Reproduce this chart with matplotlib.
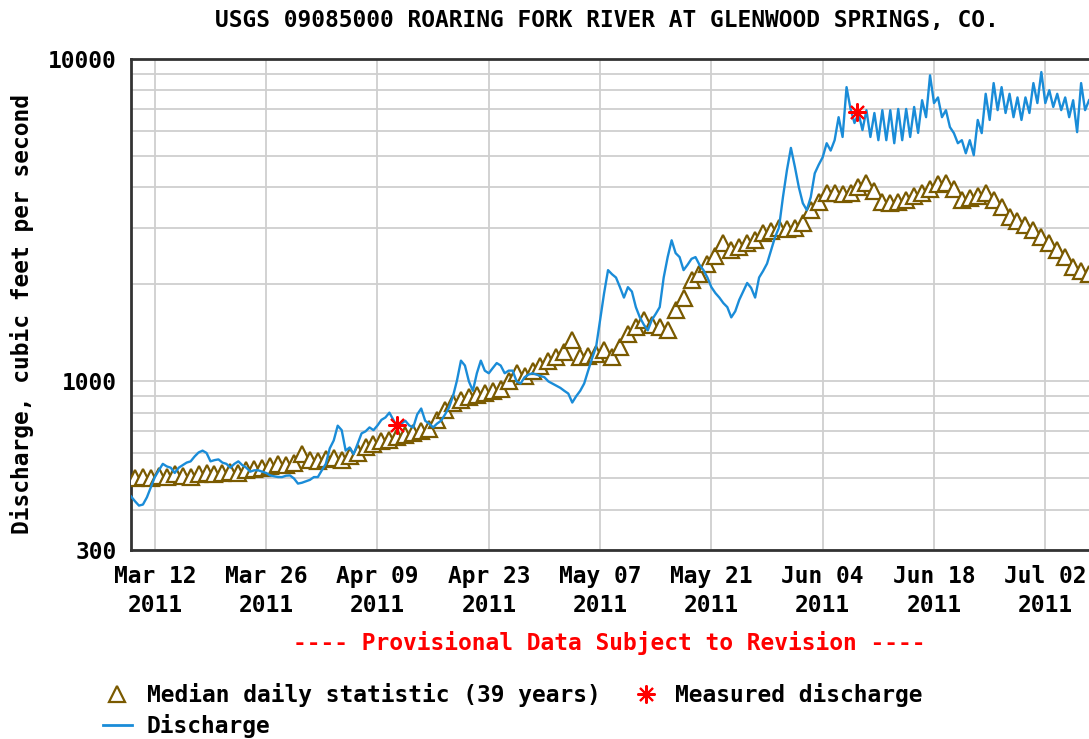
import matplotlib
matplotlib.use("Agg")
import matplotlib.pyplot as plt
import matplotlib.ticker as mticker
from matplotlib.lines import Line2D
import numpy as np
import pandas as pd

plt.rcParams['font.family'] = ['DejaVu Sans Mono']
plt.rcParams['font.weight'] = 'bold'

title = "USGS 09085000 ROARING FORK RIVER AT GLENWOOD SPRINGS, CO."

# median daily statistic, Mar 9 .. Jul 7 2011 (one per day)
median_start = "2011-03-09 12:00"
median_vals = [
    500, 505, 500, 510, 505, 515, 510, 505, 515, 520, 515, 520, 525, 520,   # Mar 9-22
    530, 535, 540, 545, 555, 550, 560, 597, 570,                             # Mar 23-31
    565, 575, 580, 570, 585, 600, 625, 640, 655, 660, 670, 680, 690, 700, 710,  # Apr 1-15
    760, 815, 860, 875, 895, 905, 920, 935, 945, 1000, 1060, 1040, 1080, 1120, 1160,  # Apr 16-30
    1190, 1230, 1340, 1190, 1200, 1220, 1250, 1190, 1280, 1400, 1470, 1550, 1500, 1480, 1440,  # May 1-15
    1660, 1820, 2060, 2160, 2320, 2450, 2680, 2550, 2610, 2680, 2740, 2880, 2930, 3000, 2980, 3000,  # May 16-31
    3100, 3400, 3600, 3840, 3850, 3800, 3850, 4000, 4120, 3900, 3600, 3570, 3600, 3650, 3750,  # Jun 1-15
    3850, 3950, 4100, 4120, 3950, 3650, 3700, 3750, 3840, 3650, 3470, 3230, 3150, 3050, 2950,  # Jun 16-30
    2800, 2680, 2550, 2430, 2260, 2200, 2160,                                # Jul 1-7
]

# discharge, two readings per day (00:00, 12:00), Mar 9 .. Jul 7 2011
q_start = "2011-03-09 00:00"
q_vals = [
    440, 425, 412, 415, 437, 470, 505, 530, 555, 545, 540, 520, 540, 550,          # Mar 9-15
    560, 565, 585, 602, 610, 600, 565, 570, 573, 560, 555, 540, 555, 565,          # Mar 16-22
    550, 540, 525, 530, 530, 525, 520, 511, 508, 505, 505, 510, 511, 500,          # Mar 23-29
    482, 485, 490, 495, 505, 505, 530, 555, 620, 656, 729, 706, 610, 624,          # Mar 30-Apr 5
    595, 640, 690, 700, 720, 706, 730, 760, 773, 800, 760, 720, 740, 755,          # Apr 6-12
    730, 720, 790, 824, 755, 740, 720, 740, 755, 790, 830, 900, 1007, 1160,        # Apr 13-19
    1120, 1000, 935, 1060, 1160, 1080, 1060, 1100, 1140, 1120, 1060, 1080, 1080, 1000,  # Apr 20-26
    985, 1030, 1050, 1060, 1050, 1040, 1030, 1000, 985, 970, 955, 935, 917, 860,   # Apr 27-May 3
    900, 935, 985, 1080, 1180, 1280, 1550, 1875, 2214, 2150, 2100, 1960, 1820, 1960,  # May 4-10
    1900, 1700, 1580, 1500, 1440, 1550, 1620, 1700, 2100, 2430, 2740, 2500, 2430, 2214,  # May 11-17
    2300, 2400, 2430, 2300, 2214, 2100, 1960, 1880, 1820, 1750, 1700, 1580, 1650, 1790,  # May 18-24
    1900, 2020, 1950, 1820, 2100, 2200, 2320, 2550, 2800, 3000, 3730, 4520, 5300, 4630,  # May 25-31
    4000, 3570, 3400, 3730, 4420, 4700, 4960, 5480, 5200, 5600, 6600, 5730, 8180, 7000,  # Jun 1-7
    6330, 6800, 6020, 6940, 5730, 6800, 5600, 6940, 5600, 6940, 5480, 7000, 5600, 7000,  # Jun 8-14
    5730, 7100, 5900, 7450, 6600, 8900, 7300, 7600, 6600, 6940, 6150, 5890, 5480, 5600,  # Jun 15-21
    5100, 5600, 5030, 6470, 5890, 7800, 6470, 8420, 6940, 8180, 6800, 7800, 6600, 7600,  # Jun 22-28
    6470, 7600, 6800, 8420, 7300, 9110, 7300, 8000, 7100, 7800, 6940, 7600, 6600, 7450,  # Jun 29-Jul 5
    5930, 8420, 6940, 7450,                                                        # Jul 6-7
]

measured_dates = ["2011-04-11 10:00", "2011-06-08 07:00"]
measured_vals = [735, 6850]

tick_dates = ["2011-03-12", "2011-03-26", "2011-04-09", "2011-04-23", "2011-05-07",
              "2011-05-21", "2011-06-04", "2011-06-18", "2011-07-02"]
tick_labels = ["Mar 12\n2011", "Mar 26\n2011", "Apr 09\n2011", "Apr 23\n2011", "May 07\n2011",
               "May 21\n2011", "Jun 04\n2011", "Jun 18\n2011", "Jul 02\n2011"]
y_ticks = [300, 1000, 10000]
y_grid = [400, 500, 600, 700, 800, 900, 2000, 3000, 4000, 5000, 6000, 7000, 8000, 9000]

median_t = pd.date_range(median_start, periods=len(median_vals), freq="D")
q_t = pd.date_range(q_start, periods=len(q_vals), freq="12h")

W, H = 1089, 739
fs = 16.5
fig = plt.figure(figsize=(W / 100, H / 100), dpi=100)
ax = fig.add_axes([131 / W, 1 - 550 / H, (1097 - 131) / W, (550 - 59) / H])

brown = "#7a5a00"
blue = "#1a8cd8"

ax.plot(median_t, median_vals, linestyle="none", marker="^", markersize=11,
        mfc="white", mec=brown, mew=1.6, zorder=3)
ax.plot(q_t, q_vals, color=blue, lw=1.7, zorder=4)
ax.plot(pd.to_datetime(measured_dates), measured_vals, linestyle="none",
        marker=(8, 2, 0), markersize=13, mec="red", mew=1.5, zorder=5)

ax.set_yscale("log")
ax.set_ylim(300, 10000)
ax.set_xlim(pd.Timestamp("2011-03-09 00:00"), pd.Timestamp("2011-07-08 12:00"))

ax.yaxis.set_major_locator(mticker.FixedLocator(y_ticks))
ax.yaxis.set_major_formatter(mticker.FixedFormatter([str(v) for v in y_ticks]))
ax.yaxis.set_minor_locator(mticker.FixedLocator(y_grid))
ax.yaxis.set_minor_formatter(mticker.NullFormatter())

ax.set_xticks(pd.to_datetime(tick_dates))
ax.set_xticklabels(tick_labels, linespacing=1.3)

ax.grid(True, which="both", color="#cfcfcf", lw=1.3, zorder=0)
ax.set_axisbelow(True)
ax.tick_params(axis="both", which="both", length=0, labelsize=fs)
ax.tick_params(axis="x", pad=11)
ax.tick_params(axis="y", pad=10.5)
for side in ["left", "top", "bottom"]:
    ax.spines[side].set_color("#333333")
    ax.spines[side].set_linewidth(2)
ax.spines["right"].set_visible(False)

fig.text(607 / W, 1 - 20 / H, title, ha="center", va="center", fontsize=fs)
fig.text(22 / W, 1 - 314 / H, "Discharge, cubic feet per second", rotation=90,
         ha="center", va="center", fontsize=fs)
fig.text(609 / W, 1 - 643 / H, "---- Provisional Data Subject to Revision ----",
         ha="center", va="center", fontsize=fs, color="red")

handles = [
    Line2D([], [], linestyle="none", marker="^", markersize=11, mfc="white", mec=brown, mew=1.6),
    Line2D([], [], color=blue, lw=2),
    Line2D([], [], linestyle="none", marker=(8, 2, 0), markersize=13, mec="red", mew=1.5),
]
labels = ["Median daily statistic (39 years)", "Discharge", "Measured discharge"]
fig.legend(handles, labels, loc="upper left", bbox_to_anchor=(103 / W, 1 - 683 / H),
           ncol=2, frameon=False, fontsize=fs, handlelength=1.25, handletextpad=0.65,
           columnspacing=1.35, labelspacing=0.3, borderpad=0, borderaxespad=0)

fig.savefig("out.png", dpi=100)
